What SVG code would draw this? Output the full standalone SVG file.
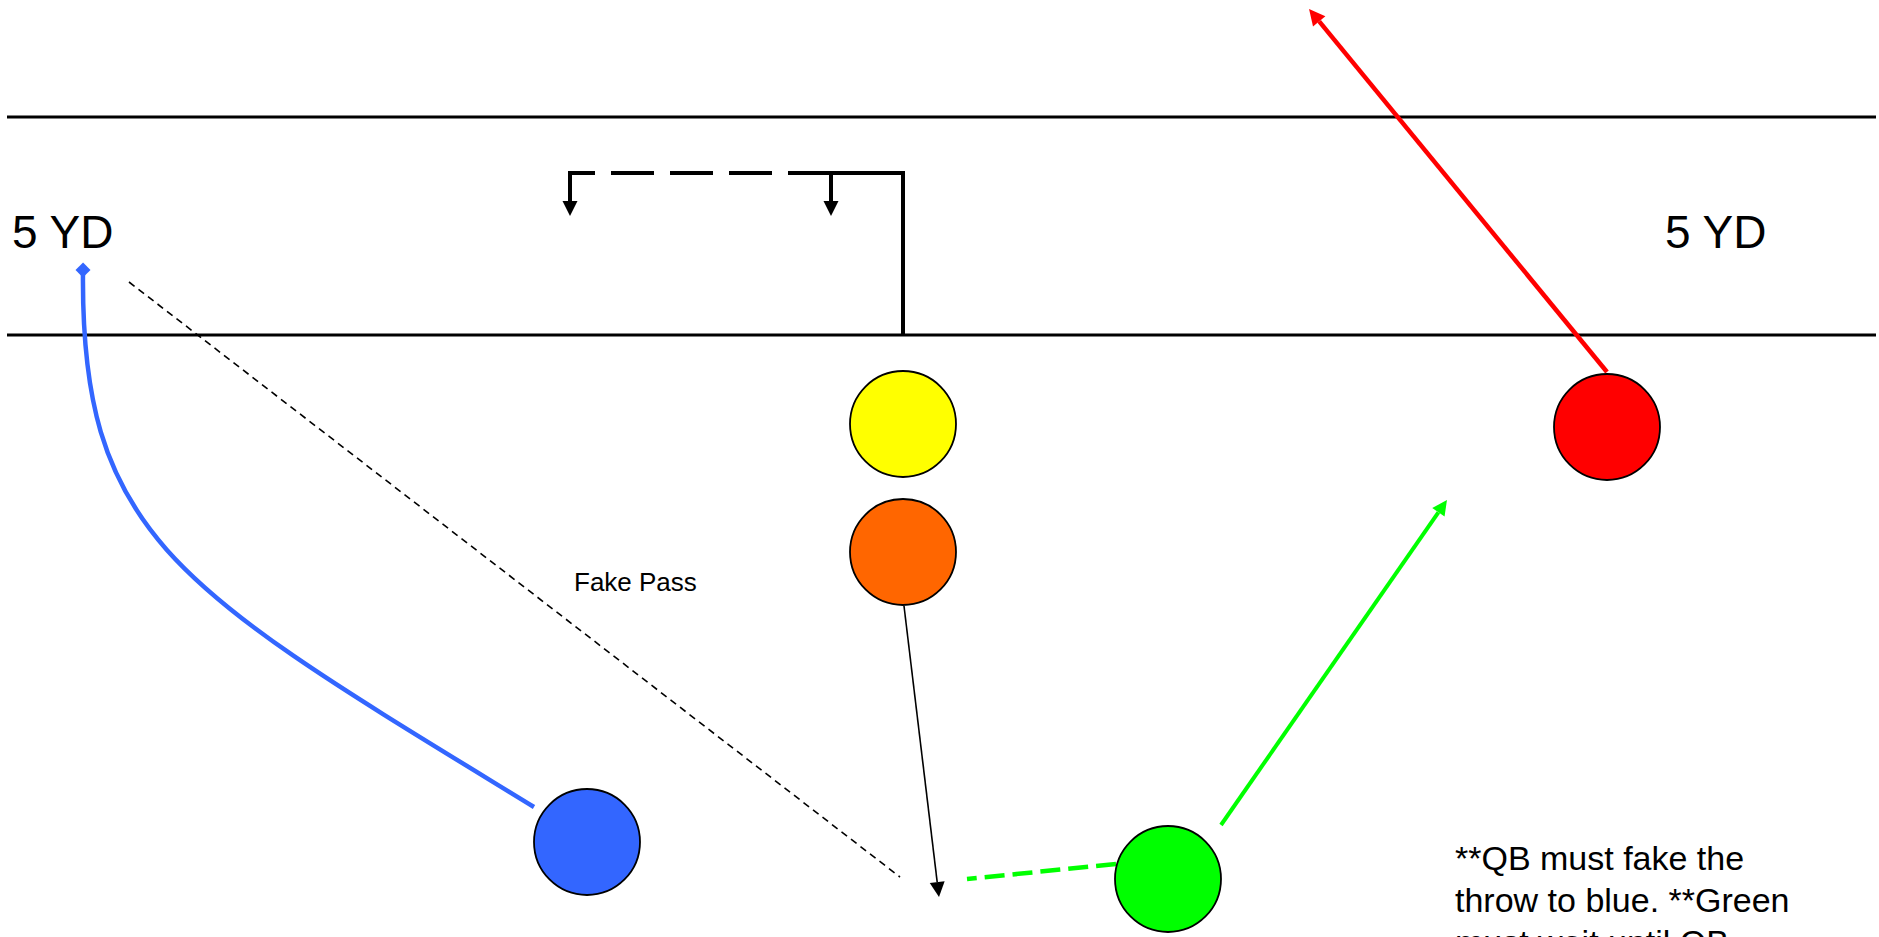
<svg xmlns="http://www.w3.org/2000/svg" width="1879" height="937" viewBox="0 0 1879 937">
<style>
.txt{font-family:"Liberation Sans",Arial,sans-serif;fill:#000}
.yard{stroke:#000;stroke-width:3;fill:none}
.node{stroke:#000;stroke-width:1.8}
</style>
<defs>
<marker id="ahBlack" markerUnits="userSpaceOnUse" markerWidth="16" markerHeight="16" refX="0" refY="7.5" orient="auto" overflow="visible">
<path d="M0,0 L15,7.5 L0,15 z" fill="#000"/>
</marker>
<marker id="ahRed" markerUnits="userSpaceOnUse" markerWidth="18" markerHeight="18" refX="0" refY="8" orient="auto" overflow="visible">
<path d="M0,0 L16,8 L0,16 z" fill="#FF0000"/>
</marker>
<marker id="ahGreen" markerUnits="userSpaceOnUse" markerWidth="16" markerHeight="16" refX="0" refY="7.5" orient="auto" overflow="visible">
<path d="M0,0 L15,7.5 L0,15 z" fill="#00FF00"/>
</marker>
<marker id="diamondBlue" markerUnits="userSpaceOnUse" markerWidth="16" markerHeight="16" refX="7.5" refY="7.5" orient="auto" overflow="visible">
<path d="M0,7.5 L7.5,0 L15,7.5 L7.5,15 z" fill="#3366FF"/>
</marker>
</defs>
<rect width="1879" height="937" fill="#fff"/>
<g id="field">
<line class="yard" x1="7" y1="117" x2="1876" y2="117"/>
<line class="yard" x1="7" y1="335" x2="1876" y2="335"/>
<text class="txt" x="12" y="248" font-size="46">5 YD</text>
<text class="txt" x="1665" y="248" font-size="46">5 YD</text>
<text class="txt" x="574" y="591" font-size="26">Fake Pass</text>
<text class="txt" font-size="34"><tspan x="1455" y="870">**QB must fake the</tspan><tspan x="1455" y="912">throw to blue. **Green</tspan><tspan x="1455" y="954">must wait until QB</tspan></text>
</g>
<g id="connectors">
<path d="M903,335 L903,173 L831,173" fill="none" stroke="#000" stroke-width="4"/>
<path d="M831,173 L570,173" fill="none" stroke="#000" stroke-width="4" stroke-dasharray="43 16"/>
<path d="M570,171 L570,201" fill="none" stroke="#000" stroke-width="4" marker-end="url(#ahBlack)"/>
<path d="M831,173 L831,201" fill="none" stroke="#000" stroke-width="4" marker-end="url(#ahBlack)"/>
<path d="M534,807 C180,590 80,540 83,270" fill="none" stroke="#3366FF" stroke-width="4.5" marker-end="url(#diamondBlue)"/>
<line x1="129" y1="282" x2="900" y2="877" stroke="#000" stroke-width="1.6" stroke-dasharray="7 5"/>
<line x1="904" y1="606" x2="937.2" y2="882.1" stroke="#000" stroke-width="1.6" marker-end="url(#ahBlack)"/>
<line x1="1116" y1="864" x2="967" y2="879" stroke="#00FF00" stroke-width="4.5" stroke-dasharray="20 8"/>
<line x1="1221" y1="825" x2="1438.4" y2="512.3" stroke="#00FF00" stroke-width="4" marker-end="url(#ahGreen)"/>
<line x1="1607" y1="372" x2="1319.2" y2="21.4" stroke="#FF0000" stroke-width="4.5" marker-end="url(#ahRed)"/>
</g>
<g id="yellow"><circle class="node" cx="903" cy="424" r="53" fill="#FFFF00"/></g>
<g id="orange"><circle class="node" cx="903" cy="552" r="53" fill="#FF6600"/></g>
<g id="red"><circle class="node" cx="1607" cy="427" r="53" fill="#FF0000"/></g>
<g id="blue"><circle class="node" cx="587" cy="842" r="53" fill="#3366FF"/></g>
<g id="green"><circle class="node" cx="1168" cy="879" r="53" fill="#00FF00"/></g>
</svg>
